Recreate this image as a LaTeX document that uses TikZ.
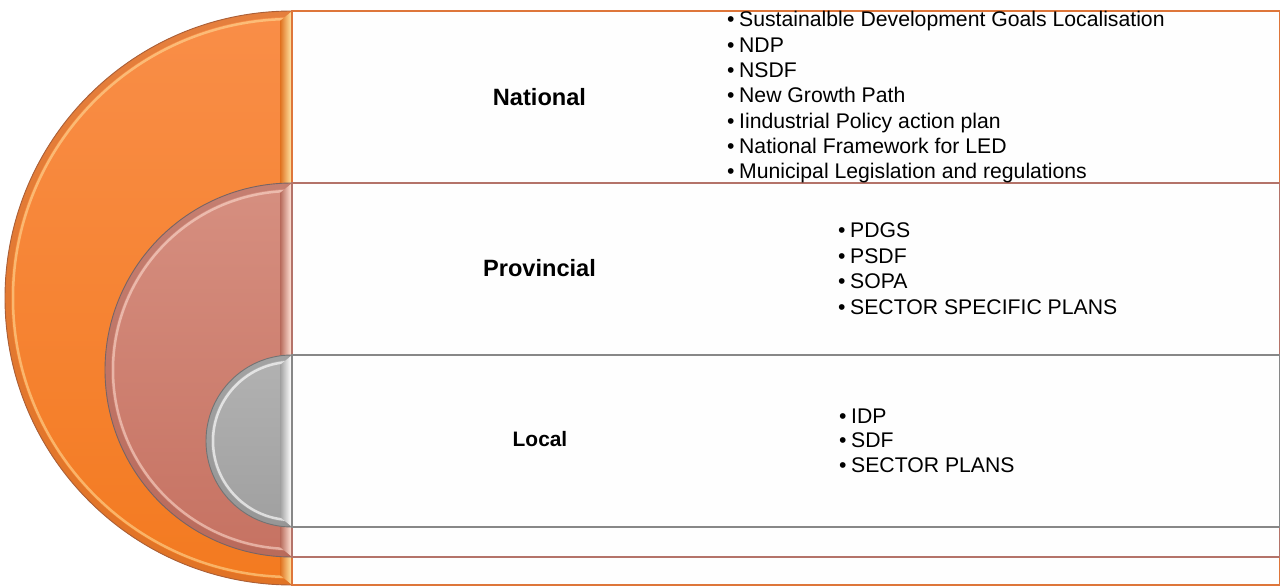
\documentclass[tikz,border=0pt]{standalone}
\usepackage{fontspec}
\setmainfont{Liberation Sans}
\begin{document}
\begin{tikzpicture}[x=1pt,y=1pt,
  itemtxt/.style={anchor=base west,inner sep=0pt,font=\fontsize{21.2}{25.4}\selectfont},
  lvllab/.style={anchor=base,inner sep=0pt,font=\fontsize{23.6}{28}\selectfont\bfseries},
  lvlbox/.style={fill=boxwhite,line width=1.6pt}]
\definecolor{boxwhite}{RGB}{254,254,254}
\definecolor{orA}{RGB}{249,142,72}
\definecolor{orB}{RGB}{243,122,32}
\definecolor{orEdge}{RGB}{170,95,55}
\definecolor{orLine}{RGB}{222,118,58}
\definecolor{orHi}{RGB}{255,226,160}
\definecolor{pkA}{RGB}{214,143,128}
\definecolor{pkB}{RGB}{198,114,98}
\definecolor{pkEdge}{RGB}{120,100,100}
\definecolor{pkLine}{RGB}{180,115,105}
\definecolor{pkHi}{RGB}{255,225,212}
\definecolor{gyA}{RGB}{178,178,178}
\definecolor{gyB}{RGB}{160,160,160}
\definecolor{gyEdge}{RGB}{115,115,115}
\definecolor{gyLine}{RGB}{135,135,135}
\useasboundingbox (0,0) rectangle (1280,-586);
\fill[white] (0,0) rectangle (1280,-586);
% ---------- orange layer ----------
\coordinate (oc) at (292,-298);
\shade[top color=orA,bottom color=orB] (292,-11) arc[start angle=90,end angle=270,radius=287] -- cycle;
\begin{scope}
  \clip (292,-11) arc[start angle=90,end angle=270,radius=287] -- cycle;
  \draw[orEdge!60!orB,line width=12pt,opacity=.4] (oc) circle[radius=287];
  \draw[orHi,line width=2.5pt,opacity=.55] (oc) circle[radius=279];
  \shade[left color=orB!92!black,right color=orHi] (280,-21) -- (291,-12) -- (291,-584) -- (280,-575) -- cycle;
\end{scope}
\draw[orEdge,line width=0.9pt] (292,-11) arc[start angle=90,end angle=270,radius=287];
\draw[lvlbox,draw=orLine] (292,-11) rectangle (1280,-585);
% ---------- pink layer ----------
\coordinate (pc) at (292,-370);
\shade[top color=pkA,bottom color=pkB] (292,-183) arc[start angle=90,end angle=270,radius=187] -- cycle;
\begin{scope}
  \clip (292,-183) arc[start angle=90,end angle=270,radius=187] -- cycle;
  \draw[pkB!80!black,line width=12pt,opacity=.3] (pc) circle[radius=187];
  \draw[pkHi,line width=2.5pt,opacity=.55] (pc) circle[radius=179];
  \shade[left color=pkB!92!black,right color=pkHi] (280,-193) -- (291,-184) -- (291,-556) -- (280,-547) -- cycle;
\end{scope}
\draw[pkEdge,line width=0.9pt] (292,-183) arc[start angle=90,end angle=270,radius=187];
\draw[lvlbox,draw=pkLine] (292,-183) rectangle (1280,-557);
% ---------- gray layer ----------
\coordinate (gc) at (292,-441);
\shade[top color=gyA,bottom color=gyB] (292,-355) arc[start angle=90,end angle=270,radius=86] -- cycle;
\begin{scope}
  \clip (292,-355) arc[start angle=90,end angle=270,radius=86] -- cycle;
  \draw[gyB!80!black,line width=10pt,opacity=.3] (gc) circle[radius=86];
  \draw[white,line width=2.5pt,opacity=.65] (gc) circle[radius=79];
  \shade[left color=gyB,right color=white] (280,-365) -- (291,-356) -- (291,-526) -- (280,-517) -- cycle;
\end{scope}
\draw[gyEdge,line width=0.9pt] (292,-355) arc[start angle=90,end angle=270,radius=86];
\draw[lvlbox,draw=gyLine] (292,-355) rectangle (1280,-527);
% ---------- labels ----------
\node[lvllab] (national) at (539.5,-105) {National};
\node[lvllab] (provincial) at (539.5,-276.7) {Provincial};
\node[anchor=base,inner sep=0pt,font=\fontsize{20.9}{25}\selectfont\bfseries] (local) at (540,-446.7) {Local};
% ---------- national list ----------
\foreach \t [count=\i] in {Sustainalble Development Goals Localisation,NDP,NSDF,New Growth Path,Iindustrial Policy action plan,National Framework for LED,Municipal Legislation and regulations}
  \node[itemtxt] (nat\i) at (727,{-27-25.3*(\i-1)}) {\makebox[12pt][l]{•}\t};
% ---------- provincial list ----------
\foreach \t [count=\i] in {PDGS,PSDF,SOPA,SECTOR SPECIFIC PLANS}
  \node[itemtxt] (prov\i) at (838,{-237.3-25.7*(\i-1)}) {\makebox[12pt][l]{•}\t};
% ---------- local list ----------
\foreach \t [count=\i] in {IDP,SDF,SECTOR PLANS}
  \node[itemtxt] (loc\i) at (839,{-423-24.5*(\i-1)}) {\makebox[12pt][l]{•}\t};
\end{tikzpicture}
\end{document}
